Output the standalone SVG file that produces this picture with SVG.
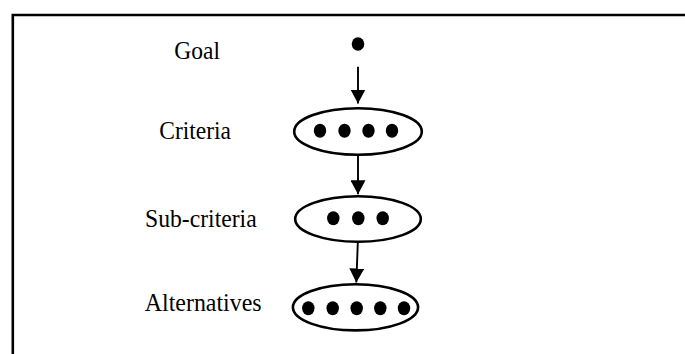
<svg xmlns="http://www.w3.org/2000/svg" width="685" height="354" viewBox="0 0 685 354">
<defs>
<style>
.lbl{font-family:"Liberation Serif","Times New Roman",serif;font-size:25.5px;fill:#000}
.ell{fill:#fff;stroke:#000;stroke-width:2.6}
.dot{fill:#000}
.edge{stroke:#000;stroke-width:1.9;fill:none}
.frame{stroke:#000;stroke-width:2.6;fill:none}
</style>
<marker id="arr" viewBox="0 0 14 15" refX="14" refY="7.5" markerWidth="14" markerHeight="15" markerUnits="userSpaceOnUse" orient="auto">
<path d="M0,0 L14,7.5 L0,15 Z" fill="#000"/>
</marker>
</defs>
<rect width="685" height="354" fill="#fff"/>
<path class="frame" d="M12.8,354 V15 H685"/>
<g id="goal">
<text class="lbl" x="174.3" y="59.3" textLength="45.7" lengthAdjust="spacingAndGlyphs">Goal</text>
<ellipse class="dot" cx="358" cy="44" rx="6.3" ry="6.7"/>
</g>
<g id="criteria">
<text class="lbl" x="159.3" y="139.3" textLength="71.7" lengthAdjust="spacingAndGlyphs">Criteria</text>
<ellipse class="ell" cx="358" cy="131.5" rx="63.8" ry="23.3"/>
<ellipse class="dot" cx="320" cy="130.7" rx="6.2" ry="7"/>
<ellipse class="dot" cx="344.5" cy="130.7" rx="6.2" ry="7"/>
<ellipse class="dot" cx="368.5" cy="130.7" rx="6.2" ry="7"/>
<ellipse class="dot" cx="392" cy="130.7" rx="6.2" ry="7"/>
</g>
<g id="subcriteria">
<text class="lbl" x="145" y="227.3" textLength="111.7" lengthAdjust="spacingAndGlyphs">Sub-criteria</text>
<ellipse class="ell" cx="358" cy="219" rx="62.8" ry="22.8"/>
<ellipse class="dot" cx="333.3" cy="218.3" rx="6.2" ry="7"/>
<ellipse class="dot" cx="358.3" cy="218.3" rx="6.2" ry="7"/>
<ellipse class="dot" cx="382.7" cy="218.3" rx="6.2" ry="7"/>
</g>
<g id="alternatives">
<text class="lbl" x="144.7" y="311" textLength="117" lengthAdjust="spacingAndGlyphs">Alternatives</text>
<ellipse class="ell" cx="355.5" cy="307.3" rx="62.6" ry="23.1"/>
<ellipse class="dot" cx="308.3" cy="308.3" rx="6.2" ry="7"/>
<ellipse class="dot" cx="332.7" cy="308.3" rx="6.2" ry="7"/>
<ellipse class="dot" cx="356.7" cy="308.3" rx="6.2" ry="7"/>
<ellipse class="dot" cx="380.3" cy="308.3" rx="6.2" ry="7"/>
<ellipse class="dot" cx="404" cy="308.3" rx="6.2" ry="7"/>
</g>
<g id="connectors">
<path class="edge" d="M358,66.7 L358,103.5" marker-end="url(#arr)"/>
<path class="edge" d="M358,156 L358,194.3" marker-end="url(#arr)"/>
<path class="edge" d="M357.8,243 L356.3,282.5" marker-end="url(#arr)"/>
</g>
</svg>
